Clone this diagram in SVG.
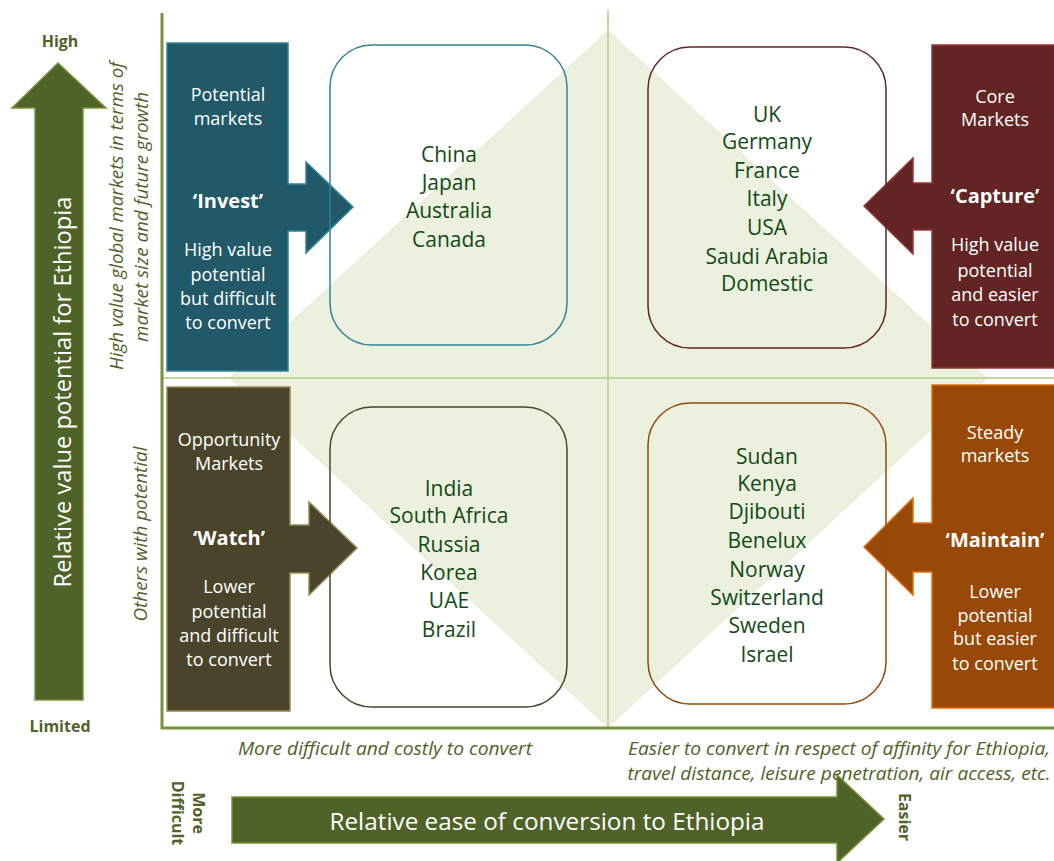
<svg xmlns="http://www.w3.org/2000/svg" width="1054" height="861" viewBox="0 0 1054 861">
<style>
.box{font-family:"Open Sans","Liberation Sans",sans-serif;font-size:18px;fill:#ffffff;text-anchor:middle;}
.kw{font-weight:bold;font-size:20px;}
.cty{font-family:"Open Sans","Liberation Sans",sans-serif;font-size:21px;fill:#124a16;text-anchor:middle;}
.ax{font-family:"Open Sans","Liberation Sans",sans-serif;font-size:16px;font-weight:bold;fill:#4f6228;text-anchor:middle;}
.it{font-family:"Open Sans","Liberation Sans",sans-serif;font-size:18px;font-style:italic;fill:#4f6228;text-anchor:middle;}
.big{font-family:"Open Sans","Liberation Sans",sans-serif;font-size:24px;fill:#ffffff;text-anchor:middle;}
.rr{fill:none;stroke-width:1.5;}
</style>
<rect width="1054" height="861" fill="#ffffff"/>
<g id="background">
  <polygon points="608,30 988,378 608,728 229,378" fill="#ebf1de"/>
  <line x1="608" y1="10" x2="608" y2="728" stroke="#c3d69b" stroke-width="2"/>
  <line x1="161" y1="378" x2="1054" y2="378" stroke="#c3d69b" stroke-width="2"/>
  <polyline points="162,13 162,728 1054,728" fill="none" stroke="#77933c" stroke-width="3"/>
</g>
<g id="axis-y">
  <polygon points="35,700 35,108 12,108 58,63 106,108 83,108 83,700" fill="#4f6228" stroke="#77933c" stroke-width="1.5"/>
  <text class="big" transform="translate(71,392) rotate(-90)" textLength="391" lengthAdjust="spacingAndGlyphs">Relative value potential for Ethiopia</text>
  <text class="ax" x="60" y="47">High</text>
  <text class="ax" x="60" y="732">Limited</text>
  <text class="it" transform="translate(123,216) rotate(-90)" textLength="308" lengthAdjust="spacingAndGlyphs">High value global markets in terms of</text>
  <text class="it" transform="translate(148,217) rotate(-90)" textLength="250" lengthAdjust="spacingAndGlyphs">market size and future growth</text>
  <text class="it" transform="translate(147,534) rotate(-90)" textLength="175" lengthAdjust="spacingAndGlyphs">Others with potential</text>
</g>
<g id="axis-x">
  <polygon points="232,797 837,797 837,775 884,819 837,863 837,843 232,843" fill="#4f6228" stroke="#77933c" stroke-width="1.5"/>
  <text class="big" x="547" y="830" textLength="435" lengthAdjust="spacingAndGlyphs">Relative ease of conversion to Ethiopia</text>
  <text class="ax" transform="translate(193,813) rotate(90)">More</text>
  <text class="ax" transform="translate(172,813) rotate(90)">Difficult</text>
  <text class="ax" transform="translate(899,817) rotate(90)">Easier</text>
  <text class="it" x="385" y="755" textLength="294" lengthAdjust="spacingAndGlyphs">More difficult and costly to convert</text>
  <text class="it" x="839" y="755" textLength="422" lengthAdjust="spacingAndGlyphs">Easier to convert in respect of affinity for Ethiopia,</text>
  <text class="it" x="839" y="780" textLength="423" lengthAdjust="spacingAndGlyphs">travel distance, leisure penetration, air access, etc.</text>
</g>
<g id="invest">
  <polygon points="167,43 288,43 288,184 306,184 306,162 353,207 306,253 306,231 288,231 288,371 167,371" fill="#215968" stroke="#31859c" stroke-width="1.5"/>
  <text class="box" x="228" y="101">Potential</text>
  <text class="box" x="228" y="125">markets</text>
  <text class="box kw" x="228" y="208">‘Invest’</text>
  <text class="box" x="228" y="256">High value</text>
  <text class="box" x="228" y="281">potential</text>
  <text class="box" x="228" y="305">but difficult</text>
  <text class="box" x="228" y="329">to convert</text>
</g>
<g id="watch">
  <polygon points="167,387 290,387 290,525 309,525 309,502 357,548 309,595 309,573 290,573 290,711 167,711" fill="#4a452a" stroke="#948a54" stroke-width="1.5"/>
  <text class="box" x="229" y="446">Opportunity</text>
  <text class="box" x="229" y="470">Markets</text>
  <text class="box kw" x="229" y="545">‘Watch’</text>
  <text class="box" x="229" y="593">Lower</text>
  <text class="box" x="229" y="618">potential</text>
  <text class="box" x="229" y="642">and difficult</text>
  <text class="box" x="229" y="666">to convert</text>
</g>
<g id="capture">
  <polygon points="932,45 1060,45 1060,368 932,368 932,230 913,230 913,254 864,206 913,158 913,183 932,183" fill="#632523" stroke="#953735" stroke-width="1.5"/>
  <text class="box" x="995" y="103">Core</text>
  <text class="box" x="995" y="126">Markets</text>
  <text class="box kw" x="995" y="203">‘Capture’</text>
  <text class="box" x="995" y="251">High value</text>
  <text class="box" x="995" y="277">potential</text>
  <text class="box" x="995" y="301">and easier</text>
  <text class="box" x="995" y="326">to convert</text>
</g>
<g id="maintain">
  <polygon points="932,385 1060,385 1060,708 932,708 932,572 913,572 913,595 864,547 913,498 913,523 932,523" fill="#984807" stroke="#e46c0a" stroke-width="1.5"/>
  <text class="box" x="995" y="439">Steady</text>
  <text class="box" x="995" y="462">markets</text>
  <text class="box kw" x="995" y="547">‘Maintain’</text>
  <text class="box" x="995" y="598">Lower</text>
  <text class="box" x="995" y="622">potential</text>
  <text class="box" x="995" y="645">but easier</text>
  <text class="box" x="995" y="670">to convert</text>
</g>
<g id="box-china">
  <rect class="rr" x="330" y="45" width="237" height="300" rx="42" stroke="#31849b"/>
  <text class="cty" x="449" y="162">China</text>
  <text class="cty" x="449" y="190">Japan</text>
  <text class="cty" x="449" y="218">Australia</text>
  <text class="cty" x="449" y="247">Canada</text>
</g>
<g id="box-uk">
  <rect class="rr" x="648" y="47" width="238" height="301" rx="42" stroke="#632523"/>
  <text class="cty" x="767" y="122">UK</text>
  <text class="cty" x="767" y="149">Germany</text>
  <text class="cty" x="767" y="178">France</text>
  <text class="cty" x="767" y="206">Italy</text>
  <text class="cty" x="767" y="235">USA</text>
  <text class="cty" x="767" y="264">Saudi Arabia</text>
  <text class="cty" x="767" y="291">Domestic</text>
</g>
<g id="box-india">
  <rect class="rr" x="330" y="407" width="237" height="300" rx="42" stroke="#4a452a"/>
  <text class="cty" x="449" y="496">India</text>
  <text class="cty" x="449" y="523">South Africa</text>
  <text class="cty" x="449" y="552">Russia</text>
  <text class="cty" x="449" y="580">Korea</text>
  <text class="cty" x="449" y="608">UAE</text>
  <text class="cty" x="449" y="637">Brazil</text>
</g>
<g id="box-sudan">
  <rect class="rr" x="648" y="403" width="238" height="301" rx="42" stroke="#984807"/>
  <text class="cty" x="767" y="464">Sudan</text>
  <text class="cty" x="767" y="491">Kenya</text>
  <text class="cty" x="767" y="519">Djibouti</text>
  <text class="cty" x="767" y="548">Benelux</text>
  <text class="cty" x="767" y="577">Norway</text>
  <text class="cty" x="767" y="605">Switzerland</text>
  <text class="cty" x="767" y="633">Sweden</text>
  <text class="cty" x="767" y="662">Israel</text>
</g>
</svg>
